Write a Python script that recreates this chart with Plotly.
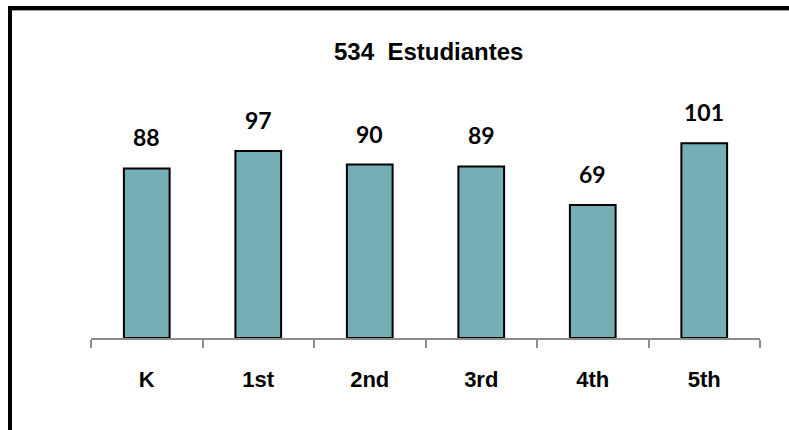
import plotly.graph_objects as go

categories = ["K", "1st", "2nd", "3rd", "4th", "5th"]
students = [88, 97, 90, 89, 69, 101]
title_text = "534  Estudiantes"

W, H = 789, 430
ML, MR, MT, MB = 91, 29, 126, 92
PW, PH = W - ML - MR, H - MT - MB

def px_x(p):
    return (p - ML) / PW

def px_y(p):
    return 1 - (p - MT) / PH

fig = go.Figure()
fig.add_trace(go.Bar(
    x=categories, y=students,
    marker=dict(color="#76AEB6", line=dict(color="#000000", width=2)),
    hoverinfo="skip",
))

for c, v in zip(categories, students):
    fig.add_annotation(x=c, y=v, text=f"<b>{v}</b>", showarrow=False,
                       yanchor="bottom", yshift=15,
                       font=dict(family="Lato", size=23, color="#000000"))

fig.add_annotation(xref="paper", yref="paper", x=px_x(428), y=px_y(51),
                   text=f"<b>{title_text}</b>", showarrow=False,
                   xanchor="center", yanchor="middle",
                   font=dict(family="Liberation Sans", size=24, color="#000000"))

# outer frame (left and top edges)
fig.add_shape(type="line", xref="paper", yref="paper",
              x0=px_x(8), x1=px_x(W + 20), y0=px_y(8), y1=px_y(8),
              line=dict(color="#000000", width=4))
fig.add_shape(type="line", xref="paper", yref="paper",
              x0=px_x(12), x1=px_x(W + 20), y0=px_y(10.5), y1=px_y(10.5),
              line=dict(color="#A0A0A0", width=1))
fig.add_shape(type="line", xref="paper", yref="paper",
              x0=px_x(10), x1=px_x(10), y0=px_y(6), y1=px_y(H + 20),
              line=dict(color="#000000", width=4))

fig.update_layout(
    width=W, height=H,
    margin=dict(l=ML, r=MR, t=MT, b=MB),
    paper_bgcolor="white", plot_bgcolor="white",
    bargap=0.59, showlegend=False,
    xaxis=dict(
        range=[-0.5, 5.5], showline=True, linecolor="#8C8C8C", linewidth=2,
        ticks="outside", tickson="boundaries", ticklen=8, tickwidth=2,
        tickcolor="#8C8C8C", showgrid=False, zeroline=False,
        tickfont=dict(family="Liberation Sans", size=22, color="#000000"),
        tickprefix="<b>", ticksuffix="</b>", ticklabelstandoff=21,
        fixedrange=True,
    ),
    yaxis=dict(range=[0, 110], visible=False, showgrid=False, fixedrange=True),
)

fig.write_html(
    "out.html",
    config={"displayModeBar": False, "staticPlot": True},
    post_script="document.body.style.margin='0';document.body.style.overflow='hidden';",
)
